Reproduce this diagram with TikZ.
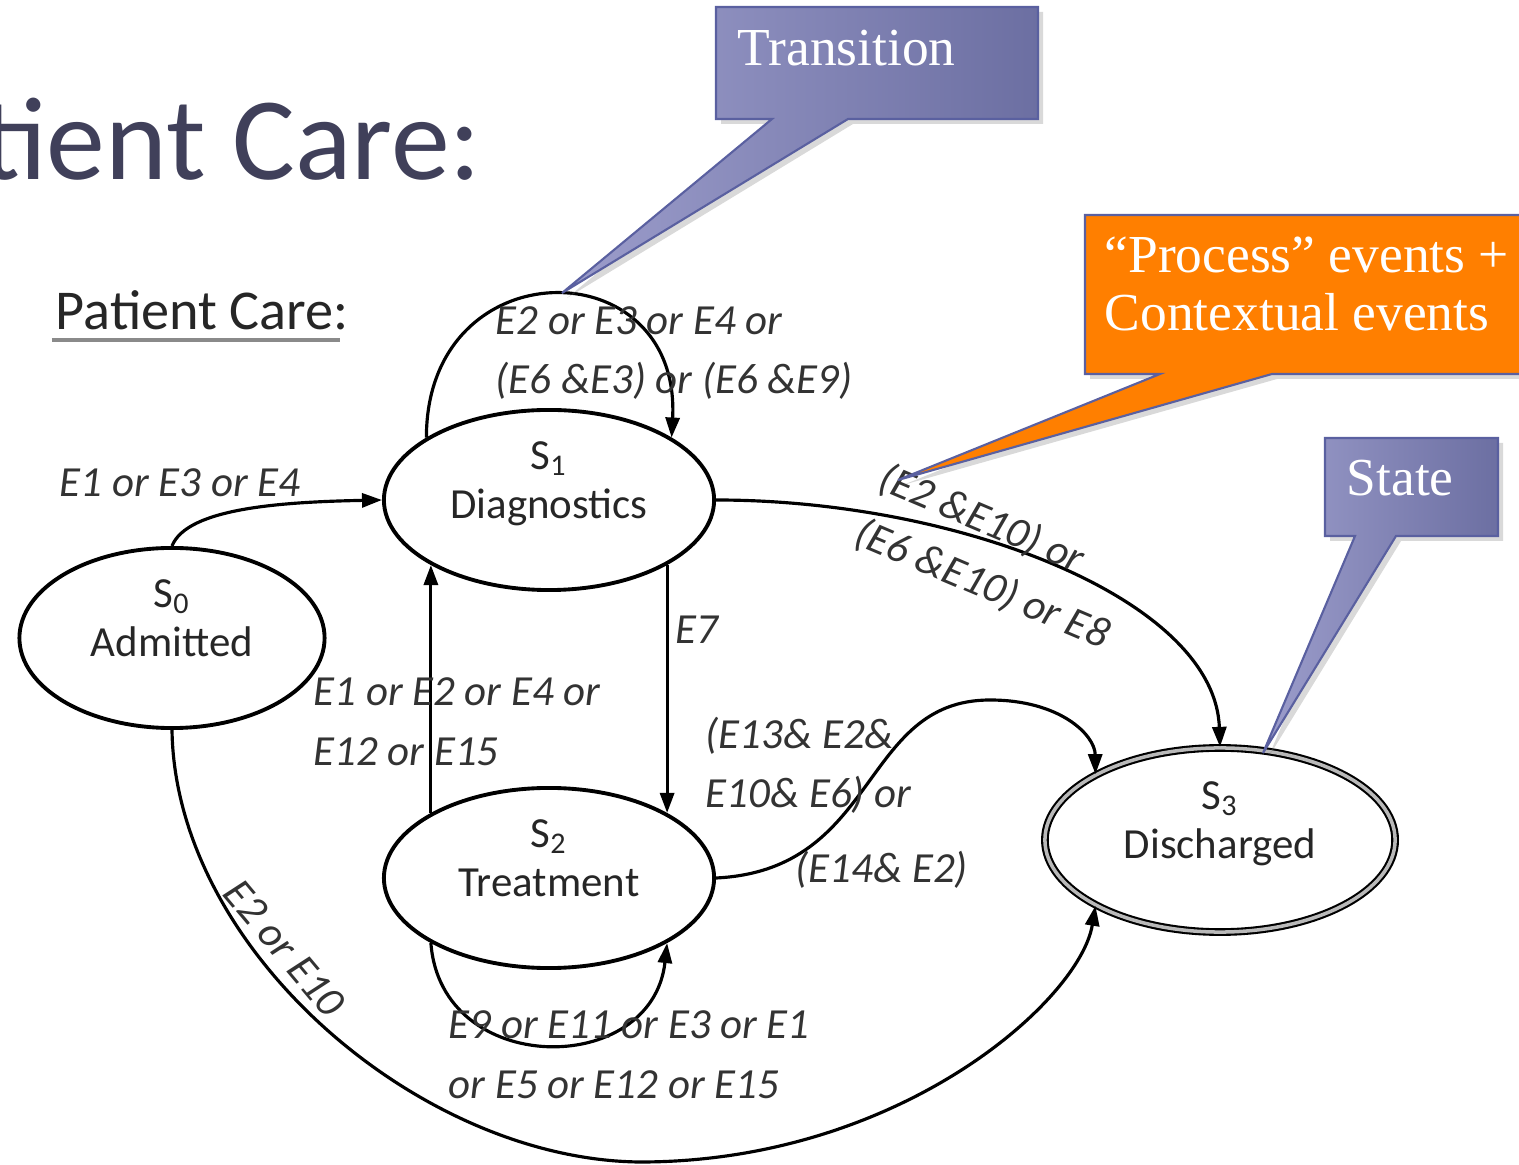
\documentclass[tikz,border=0pt]{standalone}
\usepackage{fontspec}
\setmainfont{Carlito}
\newfontfamily\calloutfont{Liberation Serif}
\usetikzlibrary{shapes.geometric,arrows.meta,shadows}
\definecolor{titleslate}{HTML}{40405A}
\definecolor{labelgray}{HTML}{333333}
\definecolor{calloutlight}{HTML}{9C9DCB}
\definecolor{calloutdark}{HTML}{6C6FA2}
\definecolor{calloutedge}{HTML}{5A60A0}
\definecolor{calloutorange}{HTML}{FF7F00}
\definecolor{ulgray}{HTML}{8A8A8A}
\begin{document}
\begin{tikzpicture}
[x=0.01cm,y=-0.01cm,
  statedecorate/.style={shape=ellipse,draw,line width=1.1pt,minimum height=1.8cm,
    align=center,inner sep=1pt,text=black!85,font=\fontsize{12.2}{14}\selectfont,
    text depth=0.4cm},%
  linedecorate/.style={-{Triangle[length=0.2cm,width=0.14cm]},line width=0.9pt},
  labeldecorate/.style={inner sep=0pt,align=left,text=labelgray,
    font=\fontsize{12.2}{17}\selectfont\itshape},
  calloutdecorate/.style={draw=calloutedge,line width=0.6pt,
    drop shadow={shadow xshift=0.05cm,shadow yshift=-0.05cm,opacity=0.3}},
  callouttext/.style={inner sep=0pt,align=left,text=white,
    font=\calloutfont\fontsize{15.2}{16.5}\selectfont}]
\useasboundingbox (0,0) rectangle (1519,1165);
%% headings
\node (title) at (482,180) [anchor=base east,inner sep=0pt,text=titleslate,
  font=\fontsize{33.5}{40}\selectfont] {tient Care:};
\node (subtitle) at (55,330) [anchor=base west,inner sep=0pt,text=black!85,
  font=\fontsize{16}{19}\selectfont] {Patient Care:};
\draw[ulgray,line width=1.1pt] ([xshift=-0.03cm,yshift=-0.1cm]subtitle.base west)
  -- ([xshift=-0.1cm,yshift=-0.1cm]subtitle.base east);
%% states
\foreach \nodename/\x/\y/\w/\idx/\txt in {s0/172/638/3.05/0/Admitted,
  s1/549/500/3.3/1/Diagnostics, s2/549/878/3.3/2/Treatment} {
  \node (\nodename) at (\x,\y) [statedecorate,minimum width=\w cm] {S\textsubscript{\idx}\\\txt};
}
\node (s3) at (1220,840) [statedecorate,minimum width=3.5cm,minimum height=1.84cm,
  line width=0.6pt,double=ulgray!60,double distance=1pt] {S\textsubscript{3}\\Discharged};
%% transitions
\draw[linedecorate] (s0.north) .. controls +(15,-38) and +(-100,2) .. (s1.west);
\draw[linedecorate] (s1.153) .. controls +(0,-190) and +(10,-190) .. (s1.27);
\draw[linedecorate] (s1.east) .. controls (960,500) and (1215,600) .. (s3.north);
\draw[linedecorate] (s1.south east) -- (s2.north east);
\draw[linedecorate] (s2.north west) -- (s1.south west);
\draw[linedecorate] (s2.south west) .. controls +(10,135) and +(-15,135) .. (s2.south east);
\draw[linedecorate] (s2.east) .. controls (880,870) and (860,700) .. (990,700)
  .. controls (1060,700) and (1095,735) .. (s3.north west);
\draw[linedecorate] (s0.south) .. controls (175,950) and (420,1160) .. (640,1162)
  .. controls (900,1162) and (1080,1000) .. (s3.south west);
%% event labels
\node (e01) at (180,483) [labeldecorate] {E1 or E3 or E4};
\node (e11) at (495,353) [labeldecorate,anchor=west] {E2 or E3 or E4 or\\(E6 \&E3) or (E6 \&E9)};
\node (e13) at (994,557) [labeldecorate,rotate=-23] {(E2 \&E10) or\\(E6 \&E10) or E8};
\node (e12) at (675,630) [labeldecorate,anchor=west] {E7};
\node (e21) at (313,722) [labeldecorate,anchor=west] {E1 or E2 or E4 or\\E12 or E15};
\node (e22) at (448,1055) [labeldecorate,anchor=west] {E9 or E11 or E3 or E1\\or E5 or E12 or E15};
\node (e23) at (705,716) [labeldecorate,anchor=north west] {(E13\& E2\&\\E10\& E6) or\\[0.15cm]\hspace*{0.9cm}(E14\& E2)};
\node (e03) at (285,948) [labeldecorate,rotate=-50] {E2 or E10};
%% callouts
\path[calloutdecorate,left color=calloutlight,right color=calloutdark]
  (716,7) -- (1038,7) -- (1038,119) -- (848,119) -- (562,293) -- (772,119) -- (716,119) -- cycle;
\node (transition) at (737,66) [callouttext,anchor=base west] {Transition};
\path[calloutdecorate,fill=calloutorange]
  (1085,215) -- (1530,215) -- (1530,374) -- (1272,374) -- (898,480) -- (1160,374) -- (1085,374) -- cycle;
\node (events) at (1104,236) [callouttext,anchor=north west] {“Process” events +\\Contextual events};
\path[calloutdecorate,left color=calloutlight,right color=calloutdark]
  (1325,438) -- (1498,438) -- (1498,536) -- (1396,536) -- (1263,753) -- (1355,536) -- (1325,536) -- cycle;
\node (state) at (1346,496) [callouttext,anchor=base west] {State};
\end{tikzpicture}
\end{document}
